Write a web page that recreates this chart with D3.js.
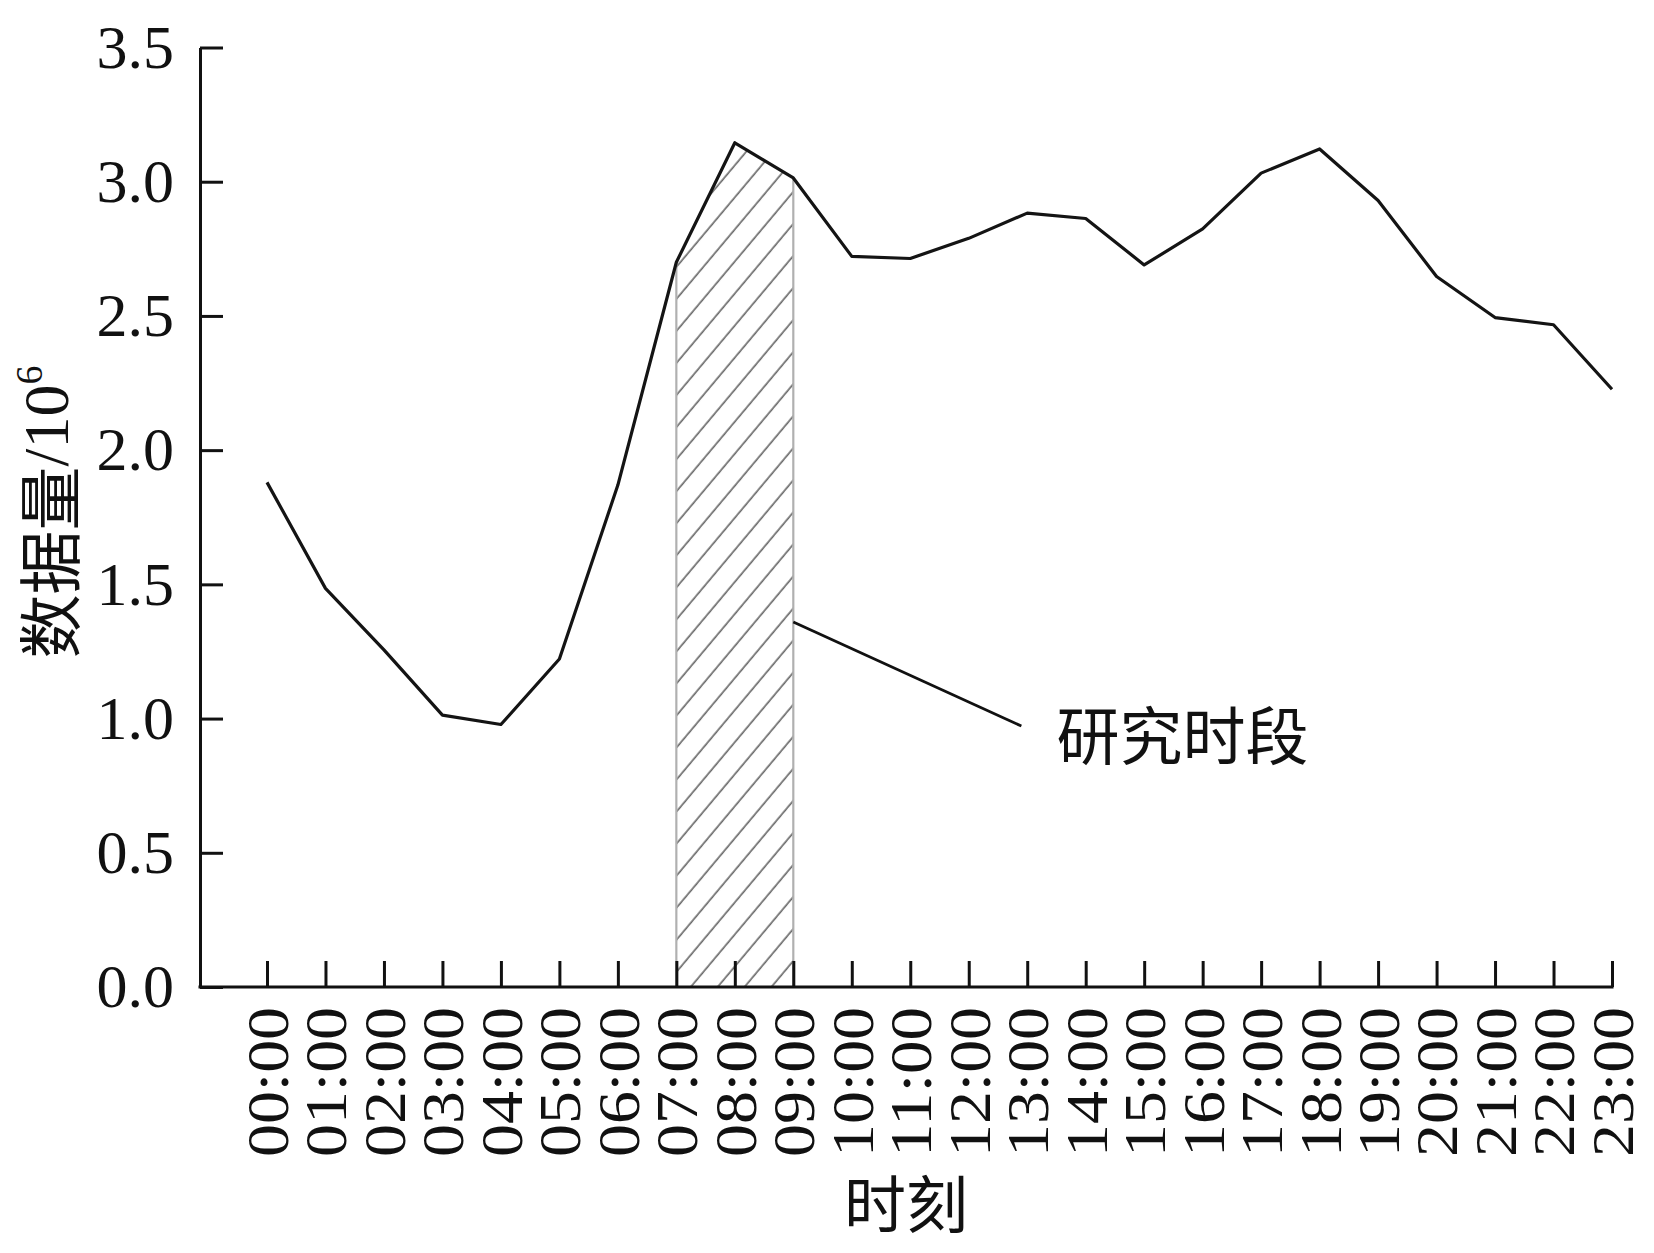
<!DOCTYPE html>
<html>
<head>
<meta charset="utf-8">
<script src="https://cdn.jsdelivr.net/npm/d3@7"></script>
<style>
  body { margin: 0; background: #fff; }
  svg { display: block; }
  text { font-family: "Liberation Serif", "Noto Sans CJK SC", serif; fill: #111; }
</style>
</head>
<body>
<div id="chart"></div>
<script>
// hourly data amount (10^6)
var hourLabels = ['00:00','01:00','02:00','03:00','04:00','05:00','06:00','07:00','08:00','09:00','10:00','11:00',
        '12:00','13:00','14:00','15:00','16:00','17:00','18:00','19:00','20:00','21:00','22:00','23:00'];
var values = [1.88, 1.485, 1.256, 1.013, 0.978, 1.222, 1.87, 2.70, 3.145, 3.014, 2.722, 2.714,
        2.789, 2.883, 2.863, 2.69, 2.824, 3.032, 3.122, 2.93, 2.647, 2.494, 2.467, 2.227];
var yTicks = [0, 0.5, 1.0, 1.5, 2.0, 2.5, 3.0, 3.5];
var studyPeriod = [7, 9];           // 07:00 - 09:00
var calloutText = '研究时段';
var calloutFrom = [9, 1.36];        // [hour index, value]
var calloutTo = [12.9, 0.972];
var calloutLabel = [13.5, 0.928];

var width = 1654, height = 1253;
var axisX = 200;

var svg = d3.select('#chart')
    .append('svg')
    .attr('width', width)
    .attr('height', height);

var x = d3.scaleLinear().domain([0, 23]).range([267, 1612]);
var y = d3.scaleLinear().domain([0, 3.5]).range([987, 47.5]);

// hatch pattern for the study period
var defs = svg.append('defs');
var pat = defs.append('pattern')
    .attr('id', 'hatch')
    .attr('patternUnits', 'userSpaceOnUse')
    .attr('width', 10)
    .attr('height', 20.6)
    .attr('patternTransform', 'rotate(-50)');
pat.append('line')
    .attr('x1', 0).attr('x2', 10)
    .attr('y1', 10).attr('y2', 10)
    .attr('stroke', '#6a6a6a')
    .attr('stroke-width', 1.7);

var band = d3.range(studyPeriod[0], studyPeriod[1] + 1);
var area = d3.area()
    .x(function(i){ return x(i); })
    .y0(y(0))
    .y1(function(i){ return y(values[i]); });

svg.append('path')
    .datum(band)
    .attr('d', area)
    .attr('fill', 'url(#hatch)');

studyPeriod.forEach(function(i){
    svg.append('line')
        .attr('x1', x(i)).attr('x2', x(i))
        .attr('y1', y(0)).attr('y2', y(values[i]))
        .attr('stroke', '#b0b0b0')
        .attr('stroke-width', 2.2);
});

// y axis
var yAxis = d3.axisLeft(y)
    .tickValues(yTicks)
    .tickSize(-23)
    .tickSizeOuter(0)
    .tickPadding(26)
    .tickFormat(d3.format('.1f'));
var gy = svg.append('g')
    .attr('transform', 'translate(' + axisX + ',0)')
    .call(yAxis);
gy.select('.domain').attr('stroke', '#111').attr('stroke-width', 3);
gy.selectAll('.tick line').attr('stroke', '#111').attr('stroke-width', 3);
gy.selectAll('.tick text')
    .attr('font-size', 62)
    .attr('font-family', '"Liberation Serif", serif')
    .attr('fill', '#111');

// x axis
var xAxis = d3.axisBottom(x)
    .tickValues(d3.range(hourLabels.length))
    .tickSize(-26)
    .tickSizeOuter(0)
    .tickFormat(function(i){ return hourLabels[i]; });
var gx = svg.append('g')
    .attr('transform', 'translate(0,' + y(0) + ')')
    .call(xAxis);
gx.select('.domain').remove();
gx.selectAll('.tick line').attr('stroke', '#111').attr('stroke-width', 3);
gx.selectAll('.tick text')
    .attr('font-size', 60)
    .attr('font-family', '"Liberation Serif", serif')
    .attr('fill', '#111')
    .attr('text-anchor', 'end')
    .attr('dy', '0.34em')
    .attr('x', 0)
    .attr('y', 0)
    .attr('textLength', 150)
    .attr('lengthAdjust', 'spacingAndGlyphs')
    .attr('transform', 'translate(0,20) rotate(-90)');

svg.append('line')
    .attr('x1', axisX - 1.5).attr('x2', x(23) + 1.5)
    .attr('y1', y(0)).attr('y2', y(0))
    .attr('stroke', '#111')
    .attr('stroke-width', 3);

// data line
var line = d3.line()
    .x(function(d, i){ return x(i); })
    .y(function(d){ return y(d); });
svg.append('path')
    .datum(values)
    .attr('d', line)
    .attr('fill', 'none')
    .attr('stroke', '#141414')
    .attr('stroke-width', 3.2)
    .attr('stroke-linejoin', 'round');

// callout
svg.append('line')
    .attr('x1', x(calloutFrom[0])).attr('y1', y(calloutFrom[1]))
    .attr('x2', x(calloutTo[0])).attr('y2', y(calloutTo[1]))
    .attr('stroke', '#111')
    .attr('stroke-width', 2.8);
svg.append('text')
    .attr('x', x(calloutLabel[0]))
    .attr('y', y(calloutLabel[1]))
    .attr('dominant-baseline', 'central')
    .attr('font-family', '"Noto Sans CJK SC", sans-serif')
    .attr('font-size', 63)
    .text(calloutText);

// axis titles
var yt = svg.append('text')
    .attr('transform', 'translate(46,512) rotate(-90)')
    .attr('text-anchor', 'middle')
    .attr('dominant-baseline', 'central')
    .attr('font-size', 64);
yt.append('tspan').attr('font-family', '"Noto Sans CJK SC", sans-serif').text('数据量');
yt.append('tspan').attr('font-family', '"Liberation Serif", serif').text('/10');
yt.append('tspan').attr('font-family', '"Liberation Serif", serif')
    .attr('font-size', 38).attr('dy', '-0.45em').text('6');

svg.append('text')
    .attr('x', 906)
    .attr('y', 1207)
    .attr('text-anchor', 'middle')
    .attr('dominant-baseline', 'central')
    .attr('font-family', '"Noto Sans CJK SC", sans-serif')
    .attr('font-size', 62)
    .text('时刻');
</script>
</body>
</html>
